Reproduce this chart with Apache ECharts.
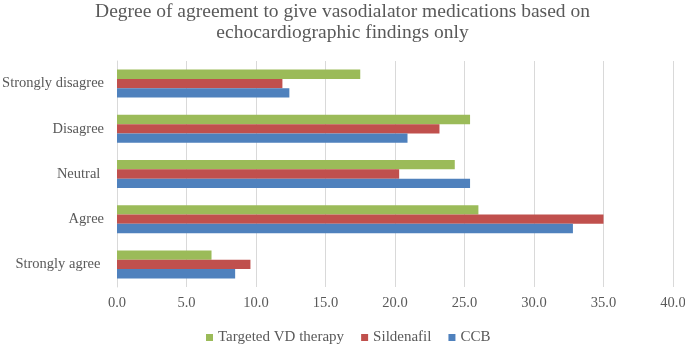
<!DOCTYPE html>
<html>
<head>
<meta charset="utf-8">
<script src="https://cdn.jsdelivr.net/npm/echarts@6/dist/echarts.min.js"></script>
<style>
  html, body { margin: 0; padding: 0; background: #fff; }
  #container { width: 685px; height: 345px; }
</style>
</head>
<body>
<div id="container"></div>
<script>
  var categories = ['Strongly agree ', 'Agree', 'Neutral ', 'Disagree', 'Strongly disagree'];
  var ccb = [8.5, 32.8, 25.4, 20.9, 12.4];
  var sildenafil = [9.6, 35.0, 20.3, 23.2, 11.9];
  var targeted = [6.8, 26.0, 24.3, 25.4, 17.5];
  var legendNames = ['Targeted VD therapy', 'Sildenafil', 'CCB'];

  var font = '"Liberation Serif", "Times New Roman", serif';
  var textColor = '#595959';

  var myChart = echarts.init(document.getElementById('container'));
  var option = {
    animation: false,
    title: {
      text: 'Degree of agreement to give vasodialator medications based on\nechocardiographic findings only',
      left: 'center',
      top: -4,
      textStyle: {
        fontFamily: font,
        fontSize: 19.5,
        fontWeight: 'normal',
        color: textColor,
        lineHeight: 21
      }
    },
    legend: {
      top: 325,
      left: 201,
      icon: 'rect',
      itemWidth: 7,
      itemHeight: 7,
      itemGap: 17,
      data: legendNames,
      textStyle: { fontFamily: font, fontSize: 15, color: textColor }
    },
    grid: {
      left: 117,
      right: 12,
      top: 61,
      bottom: 58,
      containLabel: false,
      outerBoundsMode: 'none'
    },
    xAxis: {
      type: 'value',
      min: 0,
      max: 40,
      interval: 5,
      axisLine: { show: false },
      axisTick: { show: false },
      splitLine: { show: true, lineStyle: { color: '#d9d9d9', width: 1 } },
      axisLabel: {
        margin: 9,
        fontFamily: font,
        fontSize: 14.5,
        color: textColor,
        formatter: function (v) { return v.toFixed(1); }
      }
    },
    yAxis: {
      type: 'category',
      data: categories,
      axisLine: { show: true, lineStyle: { color: '#d9d9d9' } },
      axisTick: { show: false },
      axisLabel: {
        margin: 13,
        fontFamily: font,
        fontSize: 14.5,
        color: textColor
      }
    },
    series: [
      {
        name: 'Targeted VD therapy',
        type: 'bar',
        data: targeted,
        barGap: '0%',
        barCategoryGap: '38%',
        itemStyle: { color: '#9BBB59' }
      },
      {
        name: 'Sildenafil',
        type: 'bar',
        data: sildenafil,
        barGap: '0%',
        barCategoryGap: '38%',
        itemStyle: { color: '#C0504D' }
      },
      {
        name: 'CCB',
        type: 'bar',
        data: ccb,
        barGap: '0%',
        barCategoryGap: '38%',
        itemStyle: { color: '#4F81BD' }
      }
    ]
  };
  myChart.setOption(option, true);
</script>
</body>
</html>
